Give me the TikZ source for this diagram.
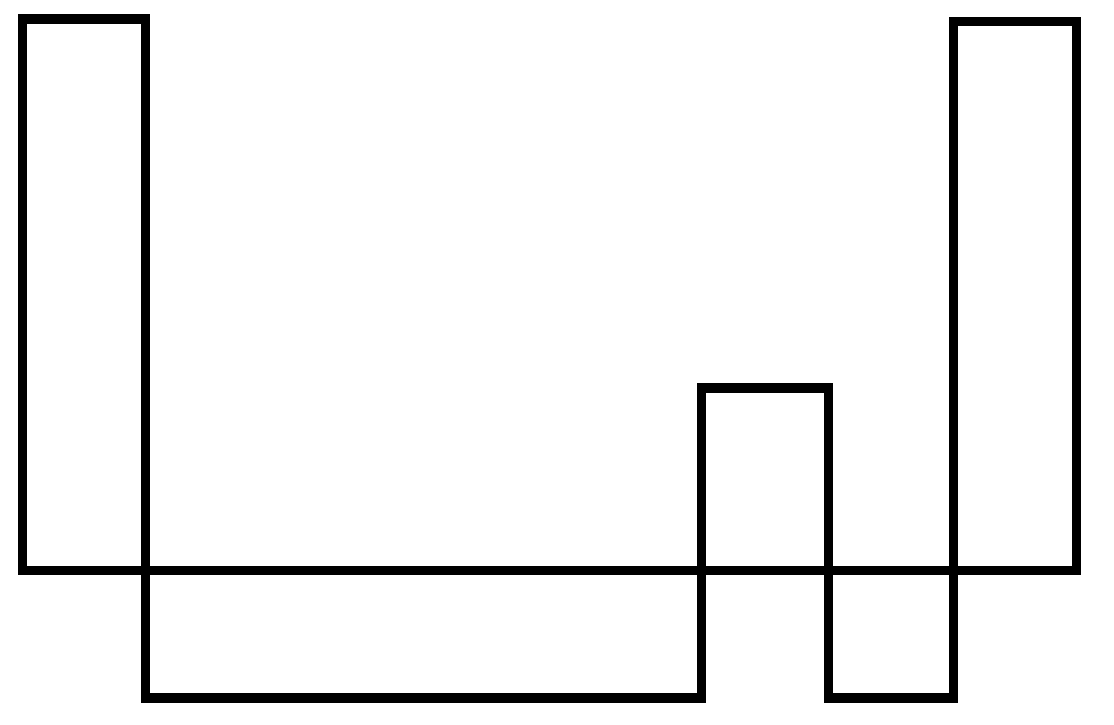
\documentclass[tikz,border=0pt]{standalone}
\begin{document}
\begin{tikzpicture}[x=1pt,y=-1pt,outline/.style={draw=black,line width=9.3pt,line join=miter}]
\useasboundingbox[fill=white] (0,0) rectangle (1114,724);
\draw[outline] (22.5,19) -- (145.5,19) -- (145.5,698) -- (701.3,698) -- (701.3,388) -- (828.7,388) -- (828.7,698) -- (953.7,698) -- (953.7,21.5) -- (1076.3,21.5) -- (1076.3,570.5) -- (22.5,570.5) -- cycle;
\end{tikzpicture}
\end{document}
